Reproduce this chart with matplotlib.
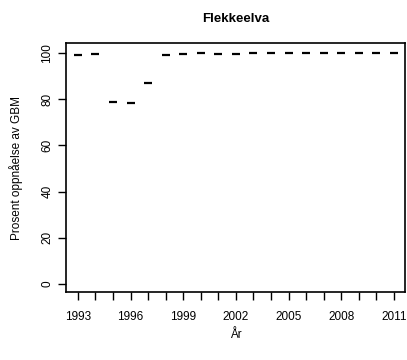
import numpy as np
import matplotlib
matplotlib.use('Agg')
import matplotlib.pyplot as plt

plt.rcParams['font.family'] = ['Liberation Sans', 'DejaVu Sans']

years = [1993, 1994, 1995, 1996, 1997, 1998, 1999, 2000, 2001, 2002,
         2003, 2004, 2005, 2006, 2007, 2008, 2009, 2010, 2011]
values = [99.1, 99.6, 78.6, 78.3, 87.1, 99.0, 99.6, 99.8, 99.6, 99.6,
          99.8, 99.8, 99.8, 99.8, 99.8, 99.8, 99.8, 99.8, 99.9]
xlabels = [1993, 1996, 1999, 2002, 2005, 2008, 2011]
yticks = [0, 20, 40, 60, 80, 100]

W, H = 407, 360
fig = plt.figure(figsize=(W / 100, H / 100), dpi=100)
ax = fig.add_axes([66 / W, 1 - 292 / H, (405 - 66) / W, (292 - 43) / H])

ax.plot(years, values, linestyle='none', marker='_', markersize=5.5,
        markeredgewidth=1.6, color='black')

ax.set_xlim(1992.32, 2011.63)
ax.set_ylim(-3.46, 104.3)
ax.set_xticks(years)
ax.set_xticklabels([str(y) if y in xlabels else '' for y in years])
ax.set_yticks(yticks)
ax.set_yticklabels([str(v) for v in yticks], rotation=90, va='center')
ax.tick_params(axis='both', length=6, width=1, labelsize=8.5)
ax.tick_params(axis='x', pad=8)
ax.tick_params(axis='y', pad=3)
for s in ax.spines.values():
    s.set_linewidth(1.2)

ax.set_title('Flekkeelva', fontsize=9.5, fontweight='bold', pad=15)
ax.set_xlabel('År', fontsize=8.5, labelpad=4)
ax.set_ylabel('Prosent oppnåelse av GBM', fontsize=8.5, labelpad=13)

fig.savefig('out.png', dpi=100)
